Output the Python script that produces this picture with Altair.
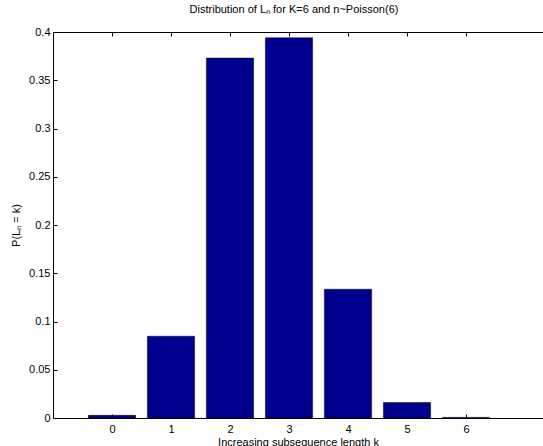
import altair as alt
import pandas as pd

lengths = [0, 1, 2, 3, 4, 5, 6]
probs = [0.0028, 0.0847, 0.373, 0.394, 0.1334, 0.016, 0.0006]
x_ticks = [0, 1, 2, 3, 4, 5, 6]
y_ticks = [0, 0.05, 0.1, 0.15, 0.2, 0.25, 0.3, 0.35, 0.4]

df = pd.DataFrame({"k": lengths, "p": probs})

FONT = "Liberation Sans"


def xs():
    return alt.Scale(domain=[-1, 7.305], nice=False, zero=False)


def ys():
    return alt.Scale(domain=[0, 0.4], nice=False, zero=False)


base = alt.Chart(df)

bars = base.mark_bar(color="#00008F", stroke="black", strokeWidth=0.5).transform_calculate(
    k0="datum.k - 0.4", k1="datum.k + 0.4", p0="0"
).encode(
    x=alt.X("k0:Q", scale=xs(), axis=alt.Axis(
        orient="bottom", values=x_ticks, format="d", ticks=False, grid=False,
        domainColor="black", domainWidth=1, labelPadding=5, labelFont=FONT,
        labelFontSize=11, labelColor="black", title="Increasing subsequence length k",
        titleFont=FONT, titleFontSize=11, titleFontWeight="normal", titleColor="black",
        titlePadding=2)),
    x2="k1:Q",
    y=alt.Y("p:Q", scale=ys(), axis=alt.Axis(
        orient="left", values=y_ticks, format="~g", ticks=False, grid=False,
        domainColor="black", domainWidth=1, labelPadding=3, labelFont=FONT,
        labelFontSize=11, labelColor="black", title="P(Lₙ = k)",
        titleFont=FONT, titleFontSize=11, titleFontWeight="normal", titleColor="black",
        titlePadding=7)),
    y2="p0:Q",
)


def ghost(xaxis, yaxis):
    return base.mark_point(opacity=0).encode(
        x=alt.X("k:Q", scale=xs(), axis=xaxis),
        y=alt.Y("p:Q", scale=ys(), axis=yaxis),
    )


tick_common = dict(labels=False, domain=False, grid=False, ticks=True, tickSize=4,
                   tickColor="black", tickWidth=1, offset=-4, title=None)

bottom_ticks = ghost(
    alt.Axis(orient="bottom", values=x_ticks, **tick_common),
    alt.Axis(orient="left", values=y_ticks, **tick_common),
)
top_ticks = ghost(
    alt.Axis(orient="top", values=x_ticks, **tick_common),
    None,
)
top_line = ghost(
    alt.Axis(orient="top", labels=False, ticks=False, grid=False, domain=True,
             domainColor="black", domainWidth=1, title=None),
    None,
)

chart = alt.layer(bars, bottom_ticks, top_ticks, top_line).resolve_scale(
    x="independent", y="independent"
).properties(
    width=490, height=386,
    title=alt.TitleParams("Distribution of Lₙ for K=6 and n~Poisson(6)", font=FONT,
                          fontSize=11, fontWeight="normal", color="black",
                          anchor="middle", offset=11, dx=-4),
    autosize=alt.AutoSizeParams(type="none"),
    padding={"left": 53, "top": 32, "right": 0, "bottom": 28},
).configure_view(stroke=None).configure(background="white")

chart.save("out.html", embed_options={"renderer": "svg", "actions": False})
